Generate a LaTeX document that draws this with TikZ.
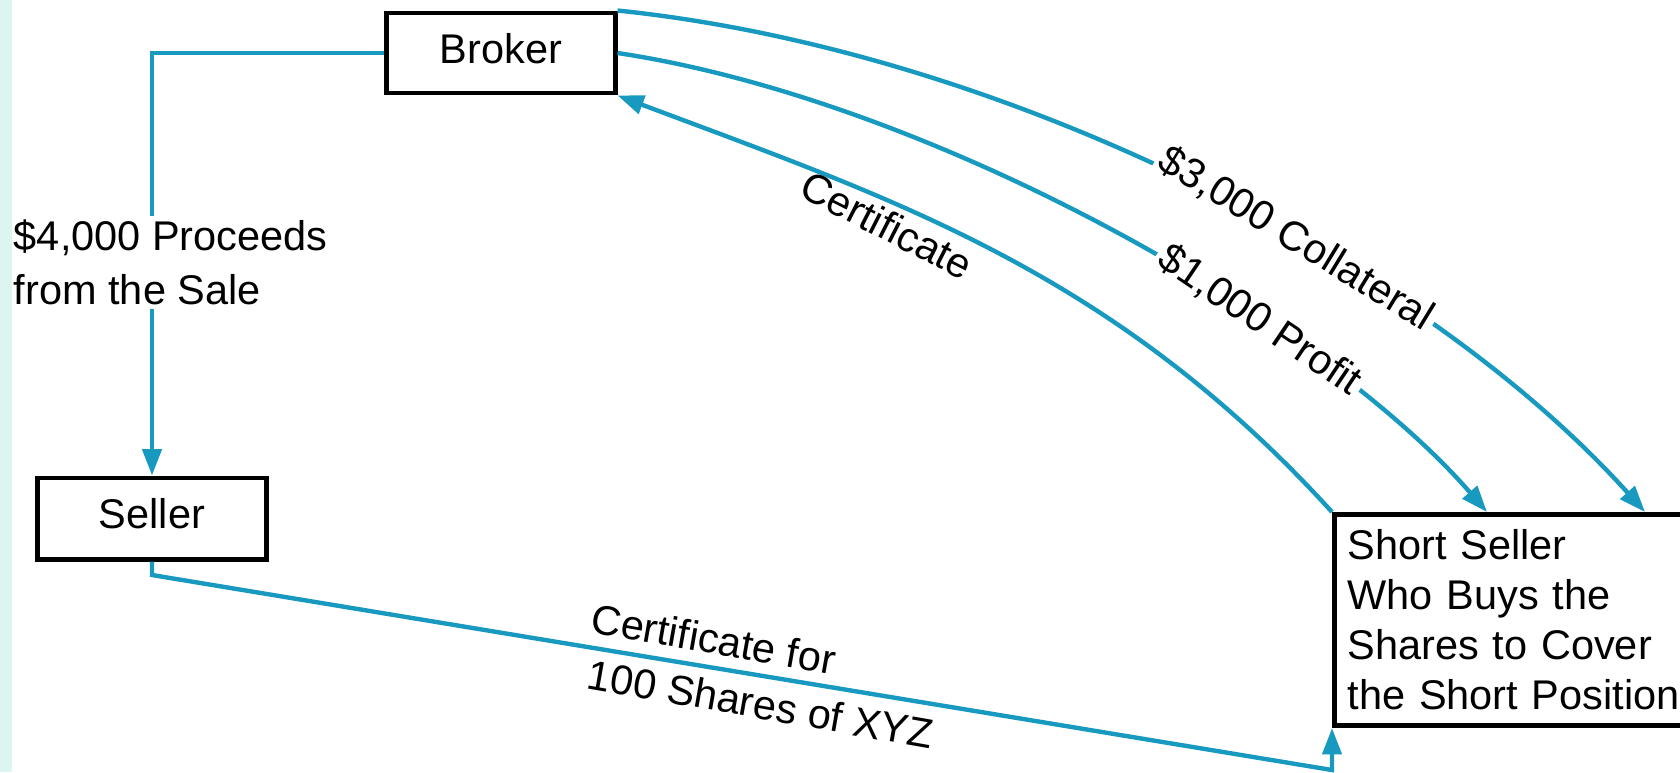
\documentclass[tikz,border=0pt]{standalone}
\usepackage{fontspec}
\setmainfont{Liberation Sans}
\usetikzlibrary{arrows.meta,calc}
\definecolor{flowblue}{RGB}{24,153,192}
\definecolor{stripcyan}{RGB}{221,245,241}
\begin{document}
\begin{tikzpicture}[x=0.01cm,y=-0.01cm,
  every node/.style={font=\fontsize{11.8}{14.2}\selectfont, inner sep=0pt},
  box/.style={draw=black, line width=1.4pt, fill=white},
  flow/.style={draw=flowblue, line width=1.25pt, -{Triangle[length=7.5pt,width=5.4pt]}},
  lbl/.style={fill=white, inner sep=1.2pt}]
\useasboundingbox (0,0) rectangle (1680,772);
\fill[white] (0,0) rectangle (1680,772);

% nodes
\node[box, minimum width=2.28cm, minimum height=0.80cm, text height=0.3cm, text depth=0.1cm] (broker) at (501,53) {Broker};
\node[box, minimum width=2.28cm, minimum height=0.81cm, text height=0.3cm, text depth=0.1cm] (seller) at (152,518.5) {Seller};
\node[box, anchor=north west, minimum width=3.7cm, minimum height=2.11cm, inner xsep=0.13cm, text width=3.44cm, align=left] (short) at (1332,512) {Short Seller\\Who Buys the\\Shares to Cover\\the Short Position};

% broker -> seller
\draw[flow] (broker.west) -| (seller.north);
\node[lbl, anchor=north west, align=left, font=\fontsize{11.8}{15.4}\selectfont] (proceeds) at (9,215) {\$4,000 Proceeds\\from the Sale};

% seller -> short seller
\coordinate (bend1) at (152,575);
\coordinate (bend2) at (1332,770);
\draw[flow] (seller.south) -- (bend1) -- (bend2) -- (short.south west);
\node[anchor=base west, rotate=-10] (certA) at (589,632) {Certificate for};
\node[anchor=base west, rotate=-10] (certB) at (585,688) {100 Shares of XYZ};

% broker -> short seller: collateral
\draw[flow] (broker.north east) .. controls (1000,50) and (1420,262) .. ($(short.north west)+(313,0)$)
  node[lbl, pos=0.6, rotate=-31.5] (coll) {\$3,000 Collateral};
% broker -> short seller: profit
\draw[flow] (broker.east) .. controls (930,100) and (1320,320) .. ($(short.north west)+(155,0)$)
  node[lbl, pos=0.67, rotate=-34] (profit) {\$1,000 Profit};
% short seller -> broker: certificate
\draw[flow] (short.north west) .. controls (1112,270) and (890,198) .. (broker.south east);
\node[rotate=-27] (certlbl) at (887,225) {Certificate};

\fill[stripcyan] (0,0) rectangle (12,772);
\end{tikzpicture}
\end{document}
